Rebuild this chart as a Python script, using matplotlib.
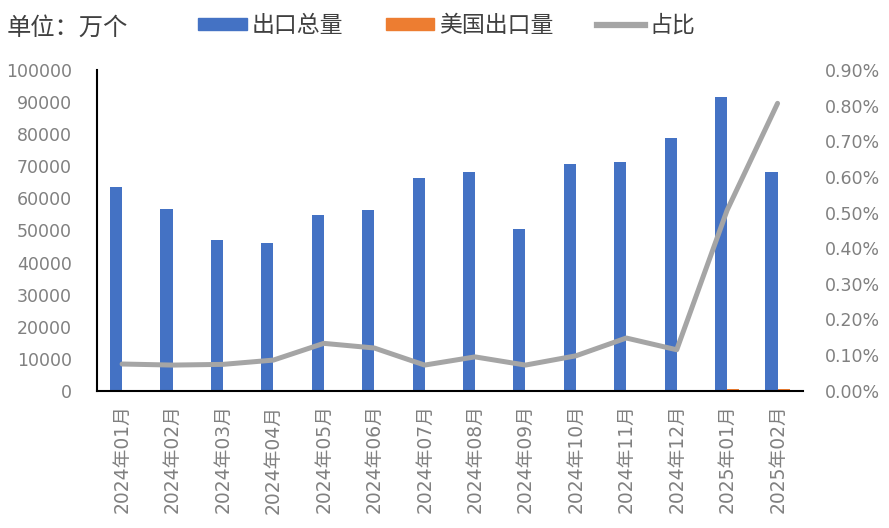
import numpy as np
import matplotlib.pyplot as plt
from matplotlib.patches import Patch
from matplotlib.lines import Line2D

plt.rcParams['font.family'] = ['DejaVu Sans', 'Noto Sans CJK SC']

# 月份
meses = ['2024年01月', '2024年02月', '2024年03月', '2024年04月', '2024年05月',
         '2024年06月', '2024年07月', '2024年08月', '2024年09月', '2024年10月',
         '2024年11月', '2024年12月', '2025年01月', '2025年02月']

# 出口总量（万个）
total = [63700, 56600, 47000, 46100, 54700, 56300, 66300, 68100,
         50400, 70600, 71300, 78800, 91800, 68400]

# 美国出口量（万个）
eua = [48, 41, 35, 40, 73, 68, 48, 65, 37, 69, 105, 91, 466, 553]

# 占比（%）
share = [0.075, 0.072, 0.074, 0.086, 0.133, 0.120, 0.072, 0.095,
         0.072, 0.098, 0.148, 0.115, 0.507, 0.807]

cinza = '#808080'
cjk = ['Noto Sans CJK SC', 'DejaVu Sans']
x = np.arange(len(meses))

fig = plt.figure(figsize=(8.89, 5.28), dpi=100)
ax = fig.add_axes([0.109, 0.26, 0.794, 0.607])
ax2 = ax.twinx()

ax.bar(x, total, width=-0.24, align='edge', color='#4472C4')
ax.bar(x, eua, width=0.24, align='edge', color='#ED7D31')
ax2.plot(x, share, color='#A5A5A5', lw=3.6, solid_capstyle='round')

ax.set_xlim(-0.5, len(meses) - 0.5)
ax.set_ylim(0, 100000)
ax.set_yticks(np.arange(0, 100001, 10000))
ax2.set_ylim(0, 0.9)
ax2.set_yticks(np.arange(0, 0.91, 0.1))
ax2.set_yticklabels([f'{v:.2f}%' for v in np.arange(0, 0.91, 0.1)])

ax.set_xticks(x)
ax.set_xticklabels(meses, rotation=90, fontsize=13.5)

for a in (ax, ax2):
    a.tick_params(length=0, colors=cinza)
    a.tick_params(axis='y', labelsize=12.5)
    for s in ('top', 'right'):
        a.spines[s].set_visible(False)
ax2.spines['left'].set_visible(False)
ax2.spines['bottom'].set_visible(False)
ax.spines['left'].set_color('black')
ax.spines['bottom'].set_color('black')
ax.spines['left'].set_linewidth(1.5)
ax.spines['bottom'].set_linewidth(1.5)
ax.tick_params(axis='y', pad=18)
ax2.tick_params(axis='y', pad=16)
ax.tick_params(axis='x', pad=10)

fig.text(0.008, 0.947, '单位：万个', fontsize=17.5, color='#404040',
         va='center', family=cjk)

handles = [Patch(color='#4472C4'), Patch(color='#ED7D31'),
           Line2D([0], [0], color='#A5A5A5', lw=4.5)]
fig.legend(handles, ['出口总量', '美国出口量', '占比'], loc='center left',
           bbox_to_anchor=(0.2, 0.952), ncol=3, frameon=False,
           prop={'family': cjk, 'size': 16.5}, handlelength=2.1,
           handleheight=0.45, columnspacing=1.9, handletextpad=0.2,
           labelcolor='#404040')

fig.savefig('out.png')
